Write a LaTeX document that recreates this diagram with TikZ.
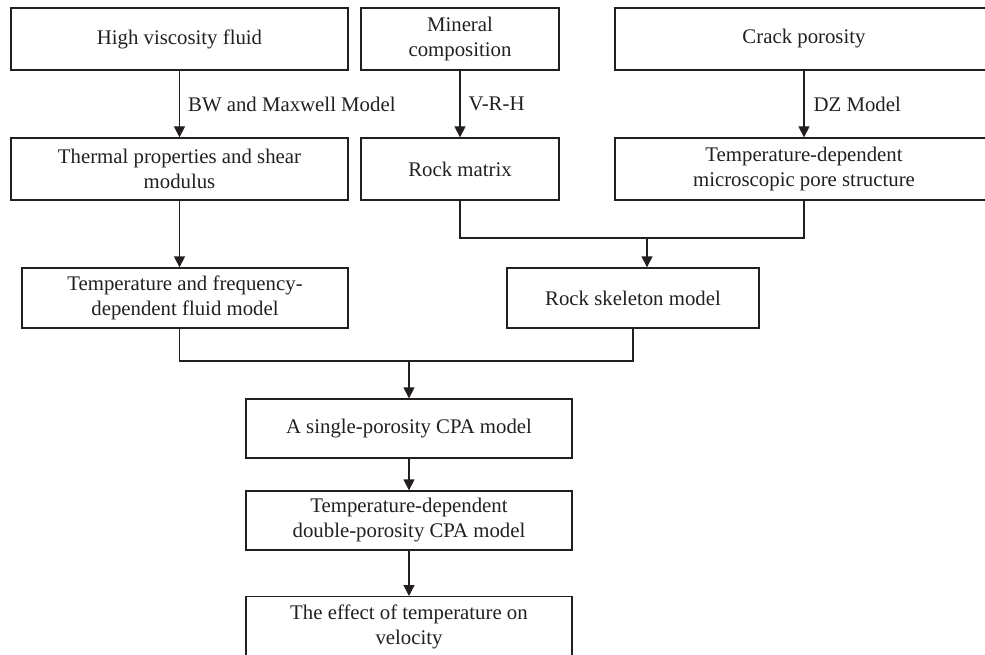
\documentclass[tikz,border=0pt]{standalone}
\usepackage{fontspec}
\setmainfont{Liberation Serif}
\usetikzlibrary{arrows.meta}
\definecolor{ink}{HTML}{231F20}
\begin{document}
\begin{tikzpicture}[x=1pt,y=-1pt,
  box/.style={draw=ink,line width=1.3pt,rectangle,inner sep=0pt,align=center,
    font=\fontsize{20.8}{25}\selectfont,text=ink},
  lbl/.style={anchor=west,inner sep=0pt,font=\fontsize{20.8}{25}\selectfont,text=ink},
  conn/.style={draw=ink,line width=1.3pt},
  arr/.style={conn,-{Triangle[width=11pt,length=11pt]}}]
\useasboundingbox (0,0) rectangle (985,655);
\clip (0,0) rectangle (985,655);
% row 1
\node[box,minimum width=337pt,minimum height=62pt] (hv) at (179.5,39) {High viscosity fluid};
\node[box,minimum width=198pt,minimum height=62pt] (mc) at (460,39) {Mineral\\composition};
\node[box,minimum width=378pt,minimum height=62pt] (cp) at (804,39) {Crack porosity};
% row 2
\node[box,minimum width=337pt,minimum height=62pt] (tp) at (179.5,169) {Thermal properties and shear\\modulus};
\node[box,minimum width=198pt,minimum height=62pt] (rm) at (460,169) {Rock matrix};
\node[box,minimum width=378pt,minimum height=62pt] (mp) at (804,169) {Temperature-dependent\\microscopic pore structure};
% row 3
\node[box,minimum width=326pt,minimum height=60pt] (fm) at (185,298) {Temperature and frequency-\\dependent fluid model};
\node[box,minimum width=252pt,minimum height=60pt] (rs) at (633,298) {Rock skeleton model};
% column
\node[box,minimum width=326pt,minimum height=59pt] (sp) at (409,428.5) {A single-porosity CPA model};
\node[box,minimum width=326pt,minimum height=59pt] (dp) at (409,520.5) {Temperature-dependent\\double-porosity CPA model};
\node[box,minimum width=326pt,minimum height=60pt,anchor=north] (ev) at (409,596) {The effect of temperature on\\velocity};
% connectors
\draw[arr] (hv.south) -- node[lbl,pos=0.5,xshift=8pt] {BW and Maxwell Model} (tp.north);
\draw[arr] (mc.south) -- node[lbl,pos=0.5,xshift=8pt] {V-R-H} (rm.north);
\draw[arr] (cp.south) -- node[lbl,pos=0.5,xshift=9pt] {DZ Model} (mp.north);
\draw[arr] (tp.south) -- (tp.south |- fm.north);
\coordinate (j1) at (647,238);
\draw[conn] (rm.south) |- (j1) -| (mp.south);
\draw[arr] (j1) -- (j1 |- rs.north);
\coordinate (j2) at (409,361);
\draw[conn] (tp.south |- fm.south) |- (j2) -| (rs.south);
\draw[arr] (j2) -- (sp.north);
\draw[arr] (sp.south) -- (dp.north);
\draw[arr] (dp.south) -- (ev.north);
\end{tikzpicture}
\end{document}
